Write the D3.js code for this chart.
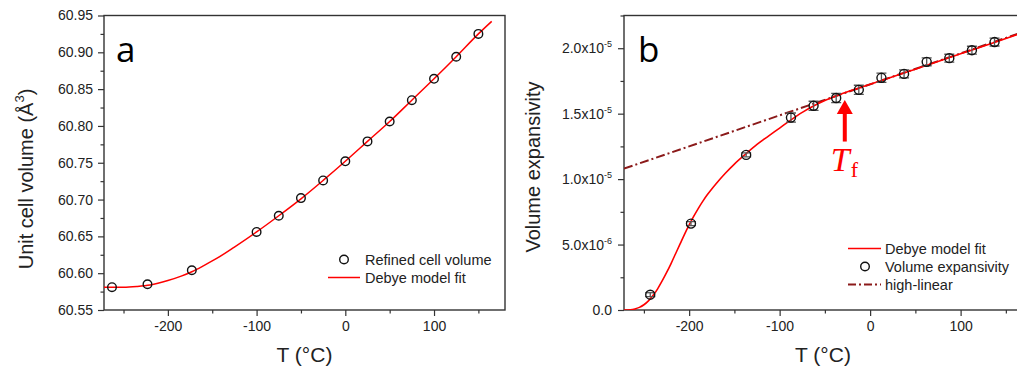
<!DOCTYPE html>
<html>
<head>
<meta charset="utf-8">
<script src="https://cdn.jsdelivr.net/npm/d3@7"></script>
<style>
  html, body { margin: 0; padding: 0; background: #fff; }
  svg { display: block; font-family: "Liberation Sans", Arial, sans-serif; }
</style>
</head>
<body>
<div id="chart"></div>
<script>
// ---- data ----
// panel a: unit cell volume
const cellT = [-263, -223, -173, -100, -75, -50, -25, 0, 25, 50, 75, 100, 125, 150]
const cellV = [60.581, 60.585, 60.604, 60.656, 60.678, 60.702, 60.726, 60.752, 60.779, 60.806, 60.835, 60.864, 60.894, 60.925]
const fitAT = [-272, -250, -235, -220, -200, -185, -173, -160, -145, -125, -100, -75, -50, -25, 0, 25, 50, 75, 100, 125, 150, 165]
const fitAV = [60.581, 60.581, 60.582, 60.584, 60.590, 60.596, 60.602, 60.610, 60.620, 60.6355, 60.656, 60.678, 60.701, 60.726, 60.752, 60.779, 60.806, 60.835, 60.864, 60.894, 60.925, 60.942]
const ticksA = [60.55, 60.60, 60.65, 60.70, 60.75, 60.80, 60.85, 60.90, 60.95]

// panel b: volume expansivity (x1e-5)
const expT = [-243, -198, -137, -87.5, -62.5, -37.5, -12.5, 12.5, 37.5, 62.5, 87.5, 112.5, 137.5]
const expV = [0.117, 0.66, 1.185, 1.47, 1.56, 1.62, 1.682, 1.774, 1.804, 1.896, 1.924, 1.985, 2.047]
const expErr = [0.015, 0.015, 0.015, 0.035, 0.035, 0.035, 0.035, 0.035, 0.03, 0.03, 0.03, 0.03, 0.03]
const fitBT = [-272, -265, -260, -255, -250, -245, -240, -235, -230, -225, -220, -215, -210, -205, -200, -195, -190, -185, -180, -175, -170, -160, -150, -137, -125, -112, -100, -87, -75, -62, -50, -37, -25, -12, 0, 25, 50, 75, 100, 125, 150, 180]
const fitBV = [0, 0.002, 0.008, 0.02, 0.04, 0.07, 0.11, 0.16, 0.22, 0.285, 0.355, 0.43, 0.505, 0.58, 0.65, 0.715, 0.775, 0.83, 0.88, 0.925, 0.967, 1.045, 1.115, 1.195, 1.265, 1.33, 1.39, 1.455, 1.51, 1.56, 1.60, 1.637, 1.668, 1.697, 1.725, 1.782, 1.84, 1.898, 1.957, 2.015, 2.075, 2.145]
const linT = [-272, 180]
const linV = [1.08, 2.15]
const ticksB = [0, 0.5, 1.0, 1.5, 2.0]
const tickLabB = [['0.0', ''], ['5.0x10', '-6'], ['1.0x10', '-5'], ['1.5x10', '-5'], ['2.0x10', '-5']]
const Tf = -28

const xMajor = [-200, -100, 0, 100]
const xMinor = [-250, -150, -50, 50, 150]

/*----------------------------------------------------------------------------*/

const W = 1017
const H = 376
const frameCol = '#333'
const textCol = '#222'
const FONT = '"Liberation Sans", Arial, sans-serif'

const svg = d3.select('#chart').append('svg')
  .attr('width', W)
  .attr('height', H)
  .attr('font-family', FONT)

const xA = d3.scaleLinear().domain([-272, 180]).range([104, 505])
const yA = d3.scaleLinear().domain([60.55, 60.95]).range([310, 15.5])
const xB = d3.scaleLinear().domain([-272, 180]).range([624, 1033])
const yB = d3.scaleLinear().domain([0, 2.25]).range([310, 15.5])

const addText = (x, y, str, size) => svg.append('text')
  .attr('x', x).attr('y', y).text(str)
  .attr('fill', textCol)
  .style('font-family', FONT)
  .style('font-size', size + 'px')

const drawFrame = (x, y) => {
  const [x0, x1] = x.range()
  const [y0, y1] = y.range()
  svg.append('rect')
    .attr('x', x0).attr('y', y1)
    .attr('width', x1 - x0).attr('height', y0 - y1)
    .attr('fill', 'none')
    .attr('stroke', frameCol)
    .attr('stroke-width', 1.4)
}

const styleAxis = g => {
  g.select('.domain').remove()
  g.selectAll('line').attr('stroke', frameCol).attr('stroke-width', 1.2)
  g.selectAll('text').attr('fill', textCol).style('font-size', '14px')
    .style('font-family', FONT)
}

const drawXAxis = x => {
  const y0 = 310
  svg.append('g').attr('transform', `translate(0,${y0})`)
    .call(d3.axisBottom(x).tickValues(xMajor).tickSize(6).tickPadding(5).tickFormat(d => String(d)))
    .call(styleAxis)
  svg.append('g').attr('transform', `translate(0,${y0})`)
    .call(d3.axisBottom(x).tickValues(xMinor).tickSize(3.5).tickFormat(''))
    .call(styleAxis)
}

// ---- panel a ----
drawFrame(xA, yA)
drawXAxis(xA)

svg.append('g').attr('transform', `translate(${xA.range()[0]},0)`)
  .call(d3.axisLeft(yA).tickValues(ticksA).tickSize(6).tickPadding(5).tickFormat(d3.format('.2f')))
  .call(styleAxis)
svg.append('g').attr('transform', `translate(${xA.range()[0]},0)`)
  .call(d3.axisLeft(yA).tickValues(ticksA.slice(0, -1).map(d => d + 0.025)).tickSize(3.5).tickFormat(''))
  .call(styleAxis)

const lineA = d3.line()
  .x(i => xA(fitAT[i]))
  .y(i => yA(fitAV[i]))
  .curve(d3.curveMonotoneX)

svg.append('path')
  .attr('d', lineA(d3.range(fitAT.length)))
  .attr('fill', 'none')
  .attr('stroke', '#ff0000')
  .attr('stroke-width', 1.5)

svg.append('g').selectAll('circle')
  .data(d3.range(cellT.length))
  .enter()
  .append('circle')
  .attr('cx', i => xA(cellT[i]))
  .attr('cy', i => yA(cellV[i]))
  .attr('r', 4.3)
  .attr('fill', 'none')
  .attr('stroke', '#111')
  .attr('stroke-width', 1.4)

// legend a
svg.append('circle').attr('cx', 344).attr('cy', 259.5).attr('r', 4.3)
  .attr('fill', 'none').attr('stroke', '#111').attr('stroke-width', 1.4)
addText(365, 264.5, 'Refined cell volume', 14.5)
svg.append('line').attr('x1', 328).attr('x2', 360).attr('y1', 277.5).attr('y2', 277.5)
  .attr('stroke', '#ff0000').attr('stroke-width', 1.5)
addText(365, 282.5, 'Debye model fit', 14.5)

svg.append('text').attr('x', 116).attr('y', 62).text('a')
  .style('font-family', '"Open Sans", "Noto Sans", sans-serif').style('font-size', '35px').attr('fill', '#000')

addText((xA.range()[0] + xA.range()[1]) / 2, 361.5, 'T (°C)', 21)
  .attr('text-anchor', 'middle')

const tA = svg.append('text')
  .attr('transform', 'translate(33,179) rotate(-90)')
  .attr('text-anchor', 'middle').attr('fill', textCol)
  .style('font-family', FONT).style('font-size', '20px')
tA.append('tspan').text('Unit cell volume (Å')
tA.append('tspan').text('3').attr('dy', -9).style('font-size', '13px')
tA.append('tspan').text(')').attr('dy', 9)

// ---- panel b ----
drawFrame(xB, yB)
drawXAxis(xB)

const gyB = svg.append('g').attr('transform', `translate(${xB.range()[0]},0)`)
  .call(d3.axisLeft(yB).tickValues(ticksB).tickSize(6).tickPadding(6).tickFormat(''))
  .call(styleAxis)
gyB.selectAll('.tick text').each(function (d, i) {
  const t = d3.select(this)
  t.append('tspan').text(tickLabB[i][0])
  if (tickLabB[i][1]) {
    t.append('tspan').text(tickLabB[i][1]).attr('dy', -6).style('font-size', '9px')
  }
})
svg.append('g').attr('transform', `translate(${xB.range()[0]},0)`)
  .call(d3.axisLeft(yB).tickValues(ticksB.map(d => d + 0.25)).tickSize(3.5).tickFormat(''))
  .call(styleAxis)

svg.append('defs').append('clipPath').attr('id', 'clipB')
  .append('rect').attr('x', 624).attr('y', 15.5).attr('width', 409).attr('height', 294.5)

const plotB = svg.append('g').attr('clip-path', 'url(#clipB)')

const lineLin = d3.line().x(i => xB(linT[i])).y(i => yB(linV[i]))
plotB.append('path')
  .attr('d', lineLin(d3.range(linT.length)))
  .attr('fill', 'none')
  .attr('stroke', '#8b1a1a')
  .attr('stroke-width', 2)
  .attr('stroke-dasharray', '9,3,2,3')

const lineB = d3.line()
  .x(i => xB(fitBT[i]))
  .y(i => yB(fitBV[i]))
  .curve(d3.curveMonotoneX)
plotB.append('path')
  .attr('d', lineB(d3.range(fitBT.length)))
  .attr('fill', 'none')
  .attr('stroke', '#ff0000')
  .attr('stroke-width', 1.6)

const pts = plotB.append('g').selectAll('g')
  .data(d3.range(expT.length))
  .enter()
  .append('g')
  .attr('stroke', '#555')
  .attr('stroke-width', 1.3)

pts.append('line')
  .attr('x1', i => xB(expT[i])).attr('x2', i => xB(expT[i]))
  .attr('y1', i => yB(expV[i] - expErr[i])).attr('y2', i => yB(expV[i] + expErr[i]))
pts.append('line')
  .attr('x1', i => xB(expT[i]) - 5).attr('x2', i => xB(expT[i]) + 5)
  .attr('y1', i => yB(expV[i] - expErr[i])).attr('y2', i => yB(expV[i] - expErr[i]))
pts.append('line')
  .attr('x1', i => xB(expT[i]) - 5).attr('x2', i => xB(expT[i]) + 5)
  .attr('y1', i => yB(expV[i] + expErr[i])).attr('y2', i => yB(expV[i] + expErr[i]))
pts.append('circle')
  .attr('cx', i => xB(expT[i]))
  .attr('cy', i => yB(expV[i]))
  .attr('r', 4.5)
  .attr('fill', 'none')
  .attr('stroke', '#111')
  .attr('stroke-width', 1.4)

// T_f arrow
const ax = xB(Tf)
svg.append('line')
  .attr('x1', ax).attr('x2', ax)
  .attr('y1', yB(1.287)).attr('y2', 112)
  .attr('stroke', '#ff0000').attr('stroke-width', 4)
svg.append('path')
  .attr('d', `M${ax},${yB(1.605)} L${ax - 8},${yB(1.605) + 14} L${ax + 8},${yB(1.605) + 14} Z`)
  .attr('fill', '#ff0000')

const tf = svg.append('text')
  .attr('x', ax - 14).attr('y', 171)
  .attr('fill', '#ff0000')
  .style('font-family', '"Liberation Serif", "DejaVu Serif", serif')
tf.append('tspan').text('T').style('font-style', 'italic').style('font-size', '34px')
tf.append('tspan').text('f').attr('dy', 6).style('font-size', '22px').attr('dx', 1)

// legend b
svg.append('line').attr('x1', 848).attr('x2', 881).attr('y1', 248.5).attr('y2', 248.5)
  .attr('stroke', '#ff0000').attr('stroke-width', 1.5)
addText(885, 253.5, 'Debye model fit', 14.5)
svg.append('circle').attr('cx', 865).attr('cy', 266.5).attr('r', 4.3)
  .attr('fill', 'none').attr('stroke', '#111').attr('stroke-width', 1.4)
addText(885, 271.5, 'Volume expansivity', 14.5)
svg.append('line').attr('x1', 848).attr('x2', 881).attr('y1', 284.5).attr('y2', 284.5)
  .attr('stroke', '#8b1a1a').attr('stroke-width', 1.8).attr('stroke-dasharray', '8,3,2,3')
addText(885, 289.5, 'high-linear', 14.5)

svg.append('text').attr('x', 638).attr('y', 62).text('b')
  .style('font-family', '"Open Sans", "Noto Sans", sans-serif').style('font-size', '35px').attr('fill', '#000')

addText(823, 361.5, 'T (°C)', 21).attr('text-anchor', 'middle')

svg.append('text')
  .attr('transform', 'translate(540,167) rotate(-90)')
  .attr('text-anchor', 'middle').attr('fill', textCol)
  .style('font-family', FONT).style('font-size', '20px')
  .text('Volume expansivity')
</script>
</body>
</html>
